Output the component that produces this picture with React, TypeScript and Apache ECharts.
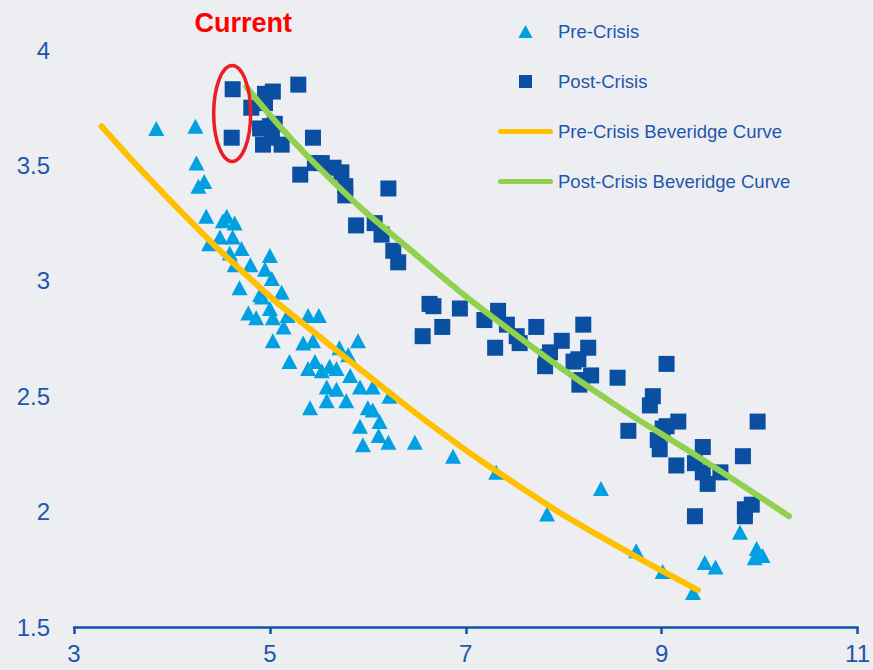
import React, { useEffect, useRef } from "react";
import * as echarts from "echarts";

// Vacancy rate (y) vs. unemployment rate (x), monthly observations
const preCrisis: [number, number][] = [
  [3.84, 3.66], [4.24, 3.67], [4.25, 3.51], [4.27, 3.41], [4.33, 3.43], [4.35, 3.28],
  [4.52, 3.26], [4.56, 3.28], [4.64, 3.25], [4.38, 3.16], [4.49, 3.19], [4.62, 3.19],
  [4.71, 3.14], [4.59, 3.12], [4.64, 3.07], [4.80, 3.07], [5.00, 3.11], [4.95, 3.05],
  [5.02, 3.01], [4.69, 2.97], [5.12, 2.95], [4.78, 2.86], [4.92, 2.93], [5.18, 2.85],
  [4.90, 2.94], [4.86, 2.84], [5.00, 2.88], [5.03, 2.84], [5.14, 2.80], [5.39, 2.85],
  [5.50, 2.85], [5.03, 2.74], [5.34, 2.73], [5.44, 2.74], [5.90, 2.74], [5.20, 2.65],
  [5.39, 2.62], [5.46, 2.65], [5.53, 2.61], [5.61, 2.63], [5.68, 2.62], [5.71, 2.71],
  [5.80, 2.68], [5.82, 2.59], [5.92, 2.54], [5.58, 2.54], [5.68, 2.53], [5.78, 2.48],
  [5.58, 2.48], [5.41, 2.45], [6.05, 2.54], [6.22, 2.50], [6.00, 2.45], [6.05, 2.44],
  [6.12, 2.39], [5.92, 2.37], [6.11, 2.33], [6.21, 2.30], [5.95, 2.29], [6.48, 2.30],
  [6.87, 2.24], [7.31, 2.17], [8.38, 2.10], [7.83, 1.99], [8.74, 1.83], [9.01, 1.74],
  [9.32, 1.65], [9.44, 1.78], [9.55, 1.76], [9.80, 1.91], [9.97, 1.84], [10.03, 1.81],
  [9.95, 1.80],
];

const postCrisis: [number, number][] = [
  [4.62, 3.83], [4.61, 3.62], [5.29, 3.85], [5.03, 3.82], [4.95, 3.81], [4.81, 3.75],
  [4.95, 3.77], [4.90, 3.66], [5.00, 3.67], [5.05, 3.68], [4.93, 3.59], [5.12, 3.59],
  [5.02, 3.62], [5.44, 3.62], [5.31, 3.46], [5.46, 3.51], [5.53, 3.51], [5.65, 3.49],
  [5.73, 3.47], [5.77, 3.41], [5.77, 3.37], [6.21, 3.40], [5.88, 3.24], [6.07, 3.25],
  [6.14, 3.20], [6.26, 3.13], [6.31, 3.08], [6.63, 2.90], [6.67, 2.89], [6.94, 2.88],
  [6.76, 2.80], [6.56, 2.76], [7.33, 2.87], [7.19, 2.83], [7.42, 2.81], [7.30, 2.71],
  [7.52, 2.76], [7.55, 2.73], [7.72, 2.80], [8.20, 2.81], [7.82, 2.67], [7.86, 2.69],
  [7.81, 2.63], [7.98, 2.74], [8.25, 2.71], [8.10, 2.65], [8.15, 2.66], [8.28, 2.59],
  [8.18, 2.57], [8.16, 2.55], [8.55, 2.58], [9.05, 2.64], [8.91, 2.50], [8.88, 2.46],
  [9.17, 2.39], [9.98, 2.39], [8.66, 2.35], [9.01, 2.36], [9.05, 2.37], [8.96, 2.31],
  [8.98, 2.27], [9.42, 2.28], [9.15, 2.20], [9.34, 2.21], [9.42, 2.17], [9.47, 2.12],
  [9.60, 2.17], [9.83, 2.24], [9.85, 2.01], [9.92, 2.03], [9.85, 1.98], [9.34, 1.98],
];

// Fitted Beveridge curves, sampled along their length
const preCurveX = [3.28, 4.0, 4.9, 5.5, 6.0, 6.73, 7.58, 8.3, 9.37];
const preCurveY = [3.67, 3.34, 2.97, 2.76, 2.59, 2.35, 2.10, 1.91, 1.66];
const postCurveX = [4.76, 5.5, 6.5, 7.5, 8.5, 9.4, 10.3];
const postCurveY = [3.84, 3.49, 3.11, 2.77, 2.47, 2.23, 1.98];

// The latest two post-crisis readings, circled as "Current"
const currentCenter: [number, number] = [4.615, 3.725];

const seriesNames = [
  "Pre-Crisis",
  "Post-Crisis",
  "Pre-Crisis Beveridge Curve",
  "Post-Crisis Beveridge Curve",
];

const FONT = "'Liberation Sans', Arial, Helvetica, sans-serif";
const LABEL_BLUE = "#1f56ae";
const AXIS_BLUE = "#0f52b0";
const TRI_BLUE = "#00a0e3";
const SQ_BLUE = "#0b4fa2";
const ORANGE = "#ffc000";
const GREEN = "#92d050";

// Legend icons as paths so they keep their proportions inside the icon box
const ICON_TRIANGLE = "path://M0,11 L6,0 L12,11 Z";
const ICON_SQUARE = "path://M0,0 L12,0 L12,12 L0,12 Z";
const ICON_BAR =
  "path://M2.5,0 L52.5,0 A2.5,2.5 0 0 1 52.5,5 L2.5,5 A2.5,2.5 0 0 1 2.5,0 Z";

export default function App() {
  const ref = useRef<HTMLDivElement>(null);

  useEffect(() => {
    if (!ref.current) return;
    const chart = echarts.init(ref.current, undefined, { renderer: "svg" });

    const zip = (xs: number[], ys: number[]) => xs.map((x, i) => [x, ys[i]]);

    chart.setOption({
      animation: false,
      backgroundColor: "#eceef1",
      textStyle: { fontFamily: FONT },
      grid: { left: 74, right: 15, top: 50, bottom: 43 },
      xAxis: {
        type: "value",
        min: 3,
        max: 11,
        interval: 2,
        axisLine: { show: true, lineStyle: { color: AXIS_BLUE, width: 2.5 } },
        axisTick: { show: true, length: 7, lineStyle: { color: AXIS_BLUE, width: 2.5 } },
        splitLine: { show: false },
        axisLabel: { color: LABEL_BLUE, fontSize: 24, margin: 14, fontFamily: FONT },
      },
      yAxis: {
        type: "value",
        min: 1.5,
        max: 4,
        interval: 0.5,
        axisLine: { show: false },
        axisTick: { show: false },
        splitLine: { show: false },
        axisLabel: { color: LABEL_BLUE, fontSize: 24, margin: 24, fontFamily: FONT },
      },
      legend: {
        orient: "vertical",
        left: 493,
        top: 17,
        itemWidth: 55,
        itemHeight: 13,
        itemGap: 31,
        symbolKeepAspect: true,
        data: [
          { name: seriesNames[0], icon: ICON_TRIANGLE },
          { name: seriesNames[1], icon: ICON_SQUARE },
          { name: seriesNames[2], icon: ICON_BAR },
          { name: seriesNames[3], icon: ICON_BAR },
        ],
        textStyle: { color: LABEL_BLUE, fontSize: 18.5, fontFamily: FONT },
      },
      series: [
        {
          name: seriesNames[0],
          type: "scatter",
          symbol: "triangle",
          symbolSize: [16, 15],
          itemStyle: { color: TRI_BLUE, opacity: 1 },
          data: preCrisis,
        },
        {
          name: seriesNames[1],
          type: "scatter",
          symbol: "rect",
          symbolSize: 16,
          itemStyle: { color: SQ_BLUE, opacity: 1 },
          data: postCrisis,
        },
        {
          name: seriesNames[2],
          type: "line",
          smooth: true,
          showSymbol: false,
          symbol: "none",
          lineStyle: { color: ORANGE, width: 6, cap: "round" },
          itemStyle: { color: ORANGE },
          data: zip(preCurveX, preCurveY),
        },
        {
          name: seriesNames[3],
          type: "line",
          smooth: true,
          showSymbol: false,
          symbol: "none",
          lineStyle: { color: GREEN, width: 6, cap: "round" },
          itemStyle: { color: GREEN },
          data: zip(postCurveX, postCurveY),
        },
      ],
    });

    const [cx, cy] = chart.convertToPixel({ gridIndex: 0 }, currentCenter) as number[];
    chart.setOption({
      graphic: [
        {
          type: "ellipse",
          shape: { cx, cy, rx: 18.5, ry: 48 },
          style: { fill: "none", stroke: "#ee1c25", lineWidth: 3.5 },
          z: 10,
        },
        {
          type: "text",
          x: cx + 11,
          y: cy - 90,
          style: {
            text: "Current",
            fill: "#ff0000",
            font: `bold 27px ${FONT}`,
            align: "center",
            verticalAlign: "middle",
          },
          z: 10,
        },
      ],
    });

    return () => chart.dispose();
  }, []);

  return (
    <div
      ref={ref}
      style={{ position: "fixed", left: 0, top: 0, width: 873, height: 670 }}
    />
  );
}
